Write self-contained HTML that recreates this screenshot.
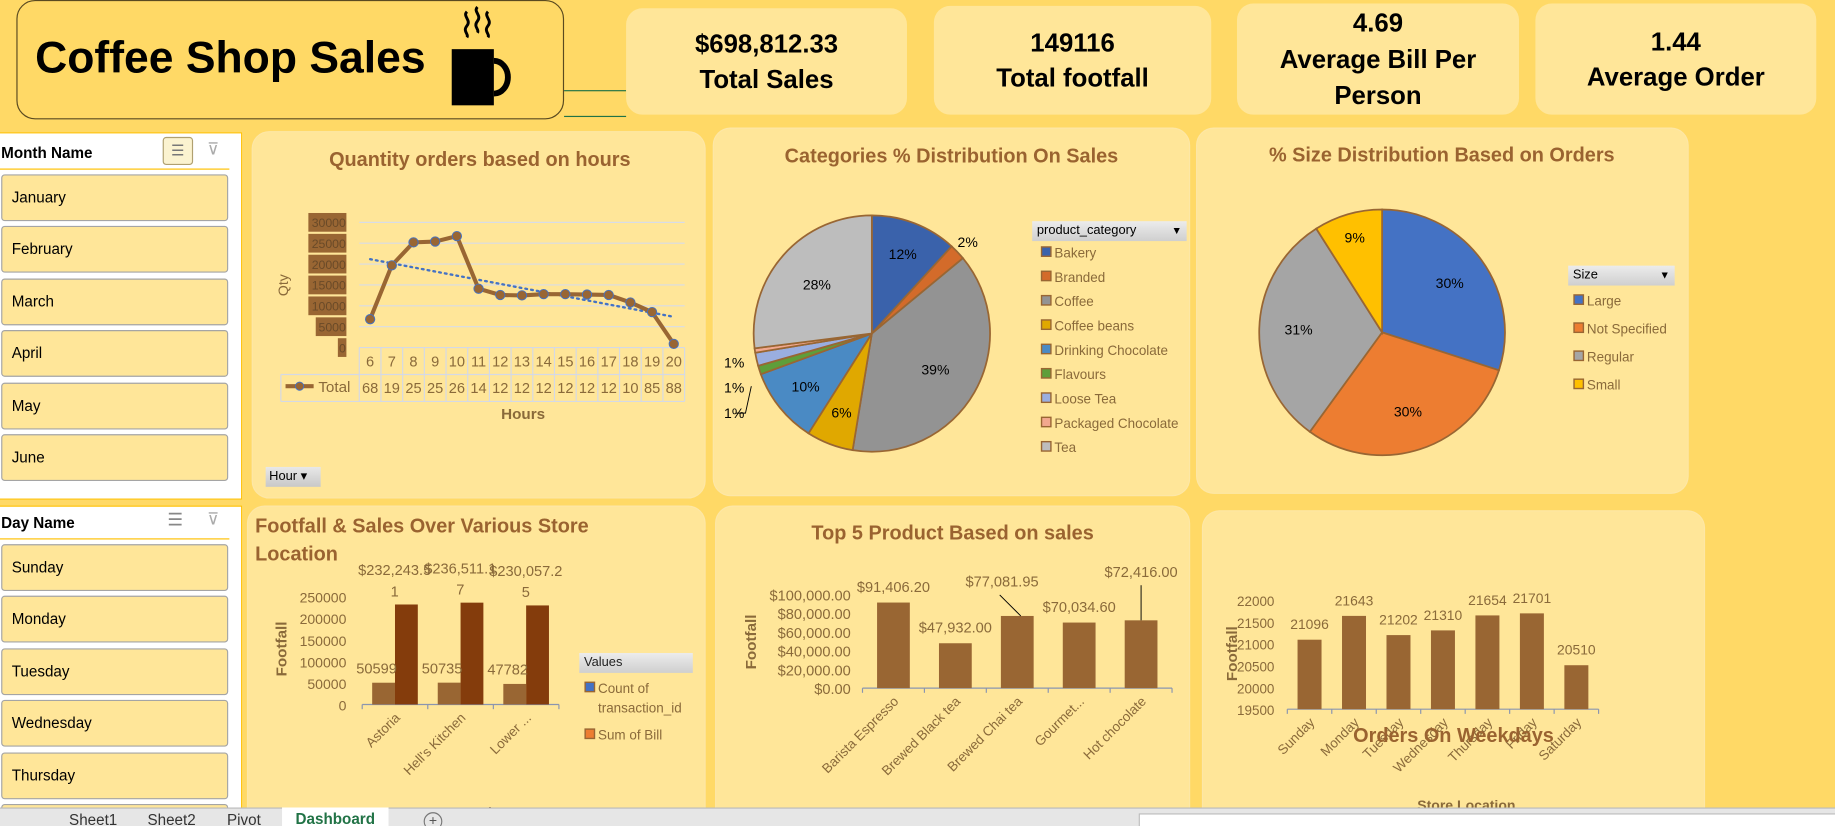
<!DOCTYPE html>
<html><head><meta charset="utf-8">
<style>
html,body{margin:0;padding:0;width:1835px;height:826px;overflow:hidden;background:#FFD966;}
#wrap{position:absolute;left:0;top:0;width:1568px;height:706px;overflow:hidden;transform:scale(1.17028);transform-origin:0 0;font-family:"Liberation Sans",sans-serif;}
.abs{position:absolute;}
.panel{position:absolute;background:#FFE699;border-radius:14px;box-shadow:0 0 0 1px #fde7a6;}
.kpi{position:absolute;background:#FFE699;border-radius:14px;text-align:center;font-weight:bold;font-size:22px;color:#000;display:flex;flex-direction:column;justify-content:center;line-height:30px;}
.slicer{position:absolute;background:#fff;border:1px solid #FFC000;overflow:hidden;}
.sh{position:absolute;left:1px;font-weight:bold;font-size:13px;color:#000;}
.item{position:absolute;left:1px;width:194px;height:40px;background:#FFE699;border:1px solid #a5a5a5;border-radius:3px;box-sizing:border-box;font-size:13px;line-height:38px;padding-left:8px;color:#000;}
.tab{position:absolute;top:693px;font-size:13px;color:#333;}
</style></head>
<body>
<div id="wrap">
  <div class="abs" style="left:14px;top:0;width:468px;height:102px;border:1.5px solid #5a4a20;border-radius:16px;background:#FFD966;box-sizing:border-box;"></div>
  <div class="abs" style="left:30px;top:29px;font-size:38px;font-weight:bold;color:#000;transform:scaleX(1.0);transform-origin:0 0;white-space:nowrap;">Coffee Shop Sales</div>
  <svg class="abs" style="left:382px;top:2px" width="80" height="96" viewBox="0 0 80 96">
    <path d="M17 8c-4 4 4 7 0 12s2 7 0 10M26 4c-4 4 4 7 0 12s2 7 0 10M35 8c-4 4 4 7 0 12s2 7 0 10" stroke="#000" stroke-width="2.5" fill="none"/>
    <rect x="4" y="40" width="36" height="48" fill="#000"/>
    <path d="M40 50 a12 14 0 0 1 0 28" stroke="#000" stroke-width="5" fill="none"/>
  </svg>
  <div class="abs" style="left:482px;top:77px;width:53px;height:1px;background:#217346"></div>
  <div class="abs" style="left:482px;top:99px;width:53px;height:1px;background:#217346"></div>

  <div class="kpi" style="left:535px;top:7px;width:240px;height:91px;"><div>$698,812.33</div><div>Total Sales</div></div>
  <div class="kpi" style="left:798px;top:5px;width:237px;height:93px;"><div>149116</div><div>Total footfall</div></div>
  <div class="kpi" style="left:1057px;top:3px;width:241px;height:95px;line-height:31px;"><div>4.69</div><div>Average Bill Per</div><div>Person</div></div>
  <div class="kpi" style="left:1312px;top:3px;width:240px;height:95px;"><div>1.44</div><div>Average Order</div></div>

  <div class="slicer" style="left:-1px;top:113px;width:206px;height:312px;">
    <div class="sh" style="top:9px;">Month Name</div>
    <div class="abs" style="left:139px;top:3px;width:24px;height:22px;border:1px solid #b0a070;border-radius:3px;background:#fbf3d0;font-size:13px;text-align:center;line-height:22px;color:#777;">☰</div>
    <div class="abs" style="left:177px;top:5px;font-size:14px;color:#aaa;">⊽</div>
    <div class="abs" style="left:0;top:30px;width:196px;height:1px;background:#FFC000"></div>
    <div class="item" style="top:35px">January</div>
    <div class="item" style="top:79px">February</div>
    <div class="item" style="top:124px">March</div>
    <div class="item" style="top:168px">April</div>
    <div class="item" style="top:213px">May</div>
    <div class="item" style="top:257px">June</div>
  </div>

  <div class="slicer" style="left:-1px;top:432px;width:206px;height:260px;">
    <div class="sh" style="top:6px;">Day Name</div>
    <div class="abs" style="left:143px;top:2px;font-size:15px;color:#888;">☰</div>
    <div class="abs" style="left:177px;top:2px;font-size:14px;color:#aaa;">⊽</div>
    <div class="abs" style="left:0;top:27px;width:196px;height:1px;background:#FFC000"></div>
    <div class="item" style="top:32px">Sunday</div>
    <div class="item" style="top:76px">Monday</div>
    <div class="item" style="top:121px">Tuesday</div>
    <div class="item" style="top:165px">Wednesday</div>
    <div class="item" style="top:210px">Thursday</div>
    <div class="item" style="top:254px">Friday</div>
  </div>

  <div class="panel" style="left:216px;top:113px;width:386px;height:312px;"></div>
  <div class="panel" style="left:610px;top:110px;width:406px;height:313px;"></div>
  <div class="panel" style="left:1023px;top:110px;width:419px;height:311px;"></div>
  <div class="panel" style="left:212px;top:433px;width:390px;height:280px;"></div>
  <div class="panel" style="left:612px;top:433px;width:404px;height:280px;"></div>
  <div class="panel" style="left:1028px;top:437px;width:428px;height:276px;"></div>

  <svg id="charts" class="abs" style="left:0;top:0" width="1568" height="706"></svg>

  <div class="abs" style="left:227px;top:399px;width:47px;height:17px;background:linear-gradient(#e8e8e8,#c8c8c8);font-size:11px;line-height:17px;padding-left:3px;box-sizing:border-box;">Hour ▾</div>
  <div class="abs" style="left:882px;top:189px;width:132px;height:17px;background:linear-gradient(#ececec,#cfcfcf);font-size:11px;line-height:17px;padding-left:4px;box-sizing:border-box;">product_category<span style="float:right;padding-right:4px;font-size:9px">▼</span></div>
  <div class="abs" style="left:1340px;top:227px;width:91px;height:17px;background:linear-gradient(#ececec,#cfcfcf);font-size:11px;line-height:17px;padding-left:4px;box-sizing:border-box;">Size<span style="float:right;padding-right:4px;font-size:9px">▼</span></div>
  <div class="abs" style="left:495px;top:558px;width:97px;height:17px;background:linear-gradient(#ececec,#cfcfcf);font-size:11px;line-height:17px;padding-left:4px;box-sizing:border-box;color:#222">Values</div>

  <div class="abs" style="left:0;top:690px;width:1568px;height:16px;background:#e6e6e6;border-top:1px solid #bbb;"></div>
  <div class="tab" style="left:59px;">Sheet1</div>
  <div class="tab" style="left:126px;">Sheet2</div>
  <div class="tab" style="left:194px;">Pivot</div>
  <div class="abs" style="left:241px;top:690px;width:91px;height:16px;background:#fff;color:#217346;font-weight:bold;font-size:13px;text-align:center;line-height:20px;">Dashboard</div>
  <div class="abs" style="left:362px;top:694px;width:14px;height:14px;border:1px solid #777;border-radius:50%;font-size:12px;line-height:13px;text-align:center;color:#555;">+</div>
  <div class="abs" style="left:973px;top:695px;width:595px;height:11px;background:#fff;border:1px solid #bbb;"></div>
</div>

<script>
// ---- data ----
const hourCats = [6,7,8,9,10,11,12,13,14,15,16,17,18,19,20];
const hourQty = [6800,19700,25200,25400,26700,14100,12600,12500,12800,12800,12700,12600,10800,8500,880];
const hourTable = ["68","19","25","25","26","14","12","12","12","12","12","12","10","85","88"];
const hourTicks = [0,5000,10000,15000,20000,25000,30000];

const catNames = ["Bakery","Branded","Coffee","Coffee beans","Drinking Chocolate","Flavours","Loose Tea","Packaged Chocolate","Tea"];
const catShares = [11.8,2.2,38.6,6.4,10.4,1.2,1.8,0.6,27.0];
const catLabels = ["12%","2%","39%","6%","10%","1%","1%","1%","28%"];

const sizeNames = ["Large","Not Specified","Regular","Small"];
const sizeShares = [30,30,31,9];
const sizeLabels = ["30%","30%","31%","9%"];

const stores = ["Astoria","Hell's Kitchen","Lower ..."];
const storeCount = [50599,50735,47782];
const storeSales = [232243.51,236511.17,230057.25];
const storeTicks = [0,50000,100000,150000,200000,250000];

const products = ["Barista Espresso","Brewed Black tea","Brewed Chai tea","Gourmet...","Hot chocolate"];
const productSales = [91406.20,47932.00,77081.95,70034.60,72416.00];
const productTicks = [0,20000,40000,60000,80000,100000];

const days = ["Sunday","Monday","Tuesday","Wednesday","Thursday","Friday","Saturday"];
const dayOrders = [21096,21643,21202,21310,21654,21701,20510];
const dayTicks = [19500,20000,20500,21000,21500,22000];

// ---- helpers ----
const NS = "http://www.w3.org/2000/svg";
const svg = document.getElementById('charts');
const BROWN = "#996633", TXT = "#8a6a3a", TTL = "#9a6330";
function el(tag, attrs, parent, text){
  const e = document.createElementNS(NS, tag);
  for (const k in attrs) e.setAttribute(k, attrs[k]);
  if (text !== undefined) e.textContent = text;
  (parent || svg).appendChild(e);
  return e;
}
function title(x, y, s, anchor, name){
  const t = el('text',{x:x,y:y,'font-size':17,'font-weight':'bold',fill:TTL,'text-anchor':anchor||'middle','font-family':'Liberation Sans, sans-serif'},svg,s);
  
  
}
function txt(x,y,s,o){
  const a = Object.assign({x:x,y:y,'font-size':12,fill:TXT,'font-family':'Liberation Sans, sans-serif'},o||{});
  return el('text',a,svg,s);
}
function fmtMoney(v){ return '$' + v.toLocaleString('en-US',{minimumFractionDigits:2,maximumFractionDigits:2}); }

// ---- Chart 1: hours line ----
title(410,142,"Quantity orders based on hours",'middle','hours-chart-title');
(function(){
  const L=307, R=585, Y0=297, Y1=190, max=30000;
  const bw=(R-L)/hourCats.length;
  const x=i=>L+(i+0.5)*bw, y=v=>Y0-(v/max)*(Y0-Y1);
  hourTicks.forEach(t=>{
    if(t>0){ const g=el('line',{x1:L,x2:R,y1:y(t),y2:y(t),stroke:'#d8dce8','stroke-width':1});   }
    const s=String(t), w=s.length*6.3+1;
    const b=el('rect',{x:296-w,y:y(t)-8,width:w,height:16,fill:BROWN});
     
    const tl=txt(295.5,y(t)+4,s,{'text-anchor':'end',fill:'#6a4a28','font-size':10.5});
     
  });
  const tg='#d4d9e6';
  el('line',{x1:L,x2:R,y1:Y0,y2:Y0,stroke:tg});
  el('line',{x1:240,x2:R,y1:320,y2:320,stroke:tg});
  el('line',{x1:240,x2:R,y1:343,y2:343,stroke:tg});
  el('line',{x1:240,x2:240,y1:320,y2:343,stroke:tg});
  for(let i=0;i<=hourCats.length;i++) el('line',{x1:L+i*bw,x2:L+i*bw,y1:Y0,y2:343,stroke:tg});
  hourCats.forEach((c,i)=>{
    const a=txt(x(i),313,String(c),{'text-anchor':'middle','font-size':12.5});
     
    const b=txt(x(i),336,hourTable[i],{'text-anchor':'middle','font-size':12.5});
     
  });
  el('line',{x1:244,x2:268,y1:330,y2:330,stroke:BROWN,'stroke-width':3.5});
  el('circle',{cx:256,cy:330,r:3.5,fill:BROWN,stroke:'#4472c4','stroke-width':0.8});
  const lg=txt(272,335,"Total",{'font-size':13});  
  const n=hourQty.length; let sx=0,sy=0,sxy=0,sxx=0;
  hourQty.forEach((v,i)=>{sx+=i;sy+=v;sxy+=i*v;sxx+=i*i;});
  const m=(n*sxy-sx*sy)/(n*sxx-sx*sx), b0=(sy-m*sx)/n;
  const tr=el('line',{x1:x(0),y1:y(b0),x2:x(n-1),y2:y(b0+m*(n-1)),stroke:'#4472c4','stroke-width':2,'stroke-dasharray':'1.5 3.5','stroke-linecap':'round'});
   
  const pts=hourQty.map((v,i)=>x(i)+','+y(v)).join(' ');
  const pl=el('polyline',{points:pts,fill:'none',stroke:BROWN,'stroke-width':3.5,'stroke-linejoin':'round'});
   
  hourQty.forEach((v,i)=>{
    const c=el('circle',{cx:x(i),cy:y(v),r:4,fill:BROWN,stroke:'#4472c4','stroke-width':0.8});
     
  });
  const q=txt(0,0,"Qty",{transform:'translate(246,253) rotate(-90)','font-size':12});
   
  const hx=txt(447,358,"Hours",{'text-anchor':'middle','font-weight':'bold','font-size':13});
   
})();

// ---- pie helper ----
function pie(cx,cy,r,vals,cols,name){
  const tot=vals.reduce((a,b)=>a+b,0); let a0=-Math.PI/2; const mids=[];
  vals.forEach((v,i)=>{
    const a1=a0+v/tot*2*Math.PI;
    const large=(a1-a0)>Math.PI?1:0;
    const d=`M${cx},${cy} L${cx+r*Math.cos(a0)},${cy+r*Math.sin(a0)} A${r},${r} 0 ${large} 1 ${cx+r*Math.cos(a1)},${cy+r*Math.sin(a1)} Z`;
    const p=el('path',{d:d,fill:cols[i],stroke:BROWN,'stroke-width':1.5});
     
    mids.push({a:(a0+a1)/2,v:v/tot*100}); a0=a1;
  });
  return mids;
}
function legend(x,y0,step,names,cols,prefix){
  names.forEach((n,i)=>{
    const y=y0+i*step;
    const r=el('rect',{x:x,y:y-5,width:8,height:8,fill:cols[i],stroke:BROWN,'stroke-width':1.2});
     
    const t=txt(x+11,y+4,n,{'font-size':11.5});
     
  });
}

// ---- Chart 2: categories pie ----
title(813,139,"Categories % Distribution On Sales",'middle','categories-chart-title');
(function(){
  const cols=["#3a62ab","#d36b2a","#939393","#e0a800","#4a8ac4","#5e9e3a","#9aaee0","#f2a88e","#bdbdbd"];
  const cx=745,cy=285,r=101;
  const mids=pie(cx,cy,r,catShares,cols,'category');
  let small=0;
  mids.forEach((m,i)=>{
    let lx,ly,anchor='middle';
    if(m.v<1.5 || (m.v<2 && Math.cos(m.a)<0)){ lx=cx-r-8; ly=cy+25+small*21.5; anchor='end'; small++; }
    else if(m.v<3){ lx=cx+(r+12)*Math.cos(m.a); ly=cy+(r+12)*Math.sin(m.a); }
    else { const k=m.v>20?0.62:0.72; lx=cx+r*k*Math.cos(m.a); ly=cy+r*k*Math.sin(m.a); }
    const t=txt(lx,ly+4,catLabels[i],{'text-anchor':anchor,fill:'#000','font-size':12});
     
  });
  el('polyline',{points:`${cx-116},${cy+68} ${cx-108},${cy+68} ${cx-103},${cy+45}`,fill:'none',stroke:'#000','stroke-width':0.8});
  legend(890,216,20.8,catNames,cols,'category');
})();

// ---- Chart 3: size pie ----
title(1232,138,"% Size Distribution Based on Orders",'middle','size-chart-title');
(function(){
  const cols=["#4472c4","#ed7d31","#a5a5a5","#ffc000"];
  const cx=1181,cy=284,r=105;
  const mids=pie(cx,cy,r,sizeShares,cols,'size');
  mids.forEach((m,i)=>{
    const k=m.v<15?0.8:0.68;
    const t=txt(cx+r*k*Math.cos(m.a),cy+r*k*Math.sin(m.a)+4,sizeLabels[i],{'text-anchor':'middle',fill:'#000','font-size':12});
     
  });
  legend(1345,257,24,sizeNames,cols,'size');
})();

// ---- bar axis helper ----
function catAxis(L,R,Y0,n){
  const a=el('line',{x1:L,x2:R,y1:Y0,y2:Y0,stroke:'#8a95b0','stroke-width':1});
   
  const w=(R-L)/n;
  for(let i=0;i<=n;i++) el('line',{x1:L+i*w,x2:L+i*w,y1:Y0,y2:Y0+4,stroke:'#8a95b0'});
  return w;
}
function rotLabel(cx,y,s){
  const t=txt(0,0,s,{transform:`translate(${cx+5},${y}) rotate(-45)`,'text-anchor':'end','font-size':11.5});
   
}

// ---- Chart 4: stores ----
title(218,455,"Footfall & Sales Over Various Store",'start','store-chart-title');
title(218,479,"Location",'start','store-chart-title-line2');
(function(){
  const L=309.5,R=477.6,Y0=602,Y1=510,max=250000;
  const y=v=>Y0-v/max*(Y0-Y1);
  storeTicks.forEach(t=>{ const l=txt(296,y(t)+5,String(t),{'text-anchor':'end','font-size':12});   });
  const w=catAxis(L,R,Y0,stores.length), bw=19.5;
  stores.forEach((s,i)=>{
    const c=L+(i+0.5)*w;
    const b1=el('rect',{x:c-bw,y:y(storeCount[i]),width:bw,height:Y0-y(storeCount[i]),fill:BROWN});
     
    const b2=el('rect',{x:c,y:y(storeSales[i]),width:bw,height:Y0-y(storeSales[i]),fill:'#843c0c'});
     
    const l1=txt(c-bw/2-6,y(storeCount[i])-8,String(storeCount[i]),{'text-anchor':'middle','font-size':12.5});
     
    const m=fmtMoney(storeSales[i]);
    const l2=txt(c+bw/2-10,y(storeSales[i])-25,m.slice(0,-1),{'text-anchor':'middle','font-size':12.5});
     
    const l3=txt(c+bw/2-10,y(storeSales[i])-7,m.slice(-1),{'text-anchor':'middle','font-size':12.5});
     
    rotLabel(c,Y0+12,s);
  });
  const f=txt(0,0,"Footfall",{transform:'translate(245,578) rotate(-90)','font-weight':'bold','font-size':13});
   
  const xt=txt(393,698,"Store Location",{'text-anchor':'middle','font-weight':'bold','font-size':12});
   
  legend(500,588,0,["Count of"],["#4472c4"],'store');
  const t2=txt(511,609,"transaction_id",{'font-size':11.5});  
  legend(500,628,0,["Sum of Bill"],["#ed7d31"],'store');
})();

// ---- Chart 5: top 5 products ----
title(814,461,"Top 5 Product Based on sales",'middle','top5-chart-title');
(function(){
  const L=737,R=1001.5,Y0=588,Y1=508,max=100000;
  const y=v=>Y0-v/max*(Y0-Y1);
  productTicks.forEach(t=>{ const l=txt(727,y(t)+5,fmtMoney(t),{'text-anchor':'end','font-size':12.5});   });
  const w=catAxis(L,R,Y0,products.length), bw=28;
  const leader={2:[-13,-16],4:[0,-28]};
  products.forEach((p,i)=>{
    const c=L+(i+0.5)*w, top=y(productSales[i]);
    const b=el('rect',{x:c-bw/2,y:top,width:bw,height:Y0-top,fill:BROWN});
     
    const off=leader[i]||[0,0];
    if(leader[i]) el('line',{x1:c+off[0]+(i==2?-2:0),y1:top+off[1]-2,x2:c+(i==2?3:0),y2:top,stroke:'#000','stroke-width':0.8});
    const l=txt(c+off[0],top-9+off[1],fmtMoney(productSales[i]),{'text-anchor':'middle','font-size':12.5});
     
    rotLabel(c,Y0+12,p);
  });
  const f=txt(0,0,"Footfall",{transform:'translate(646,572) rotate(-90)','font-weight':'bold','font-size':13});
   
  const xt=txt(869,700,"Store Location",{'text-anchor':'middle','font-weight':'bold','font-size':12});
   
})();

// ---- Chart 6: weekdays ----
(function(){
  const L=1100,R=1366,Y0=606,Y1=513,min=19500,max=22000;
  const y=v=>Y0-(v-min)/(max-min)*(Y0-Y1);
  dayTicks.forEach(t=>{ const l=txt(1089,y(t)+5,String(t),{'text-anchor':'end','font-size':12,textLength:32,lengthAdjust:'spacingAndGlyphs'});   });
  const w=catAxis(L,R,Y0,days.length), bw=20.5;
  days.forEach((d,i)=>{
    const c=L+(i+0.5)*w, top=y(dayOrders[i]);
    const b=el('rect',{x:c-bw/2,y:top,width:bw,height:Y0-top,fill:BROWN});
     
    const l=txt(c,top-9,String(dayOrders[i]),{'text-anchor':'middle','font-size':12,textLength:33,lengthAdjust:'spacingAndGlyphs'});
     
    rotLabel(c,Y0+12,d);
  });
  title(1242,634,"Orders On Weekdays",'middle','weekday-chart-title');
  const f=txt(0,0,"Footfall",{transform:'translate(1057,582) rotate(-90)','font-weight':'bold','font-size':13});
   
  const xt=txt(1253,692,"Store Location",{'text-anchor':'middle','font-weight':'bold','font-size':12});
   
})();
</script>
</body></html>
